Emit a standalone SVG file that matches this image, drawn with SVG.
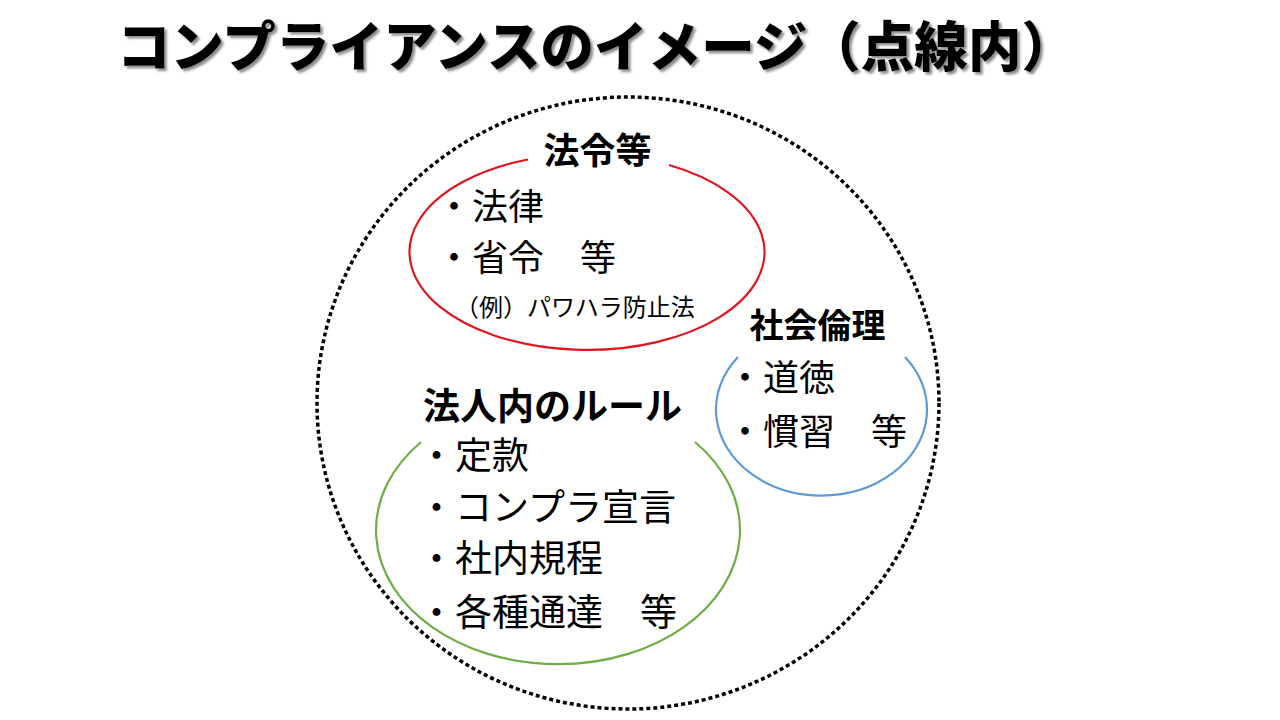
<svg xmlns="http://www.w3.org/2000/svg" width="1280" height="720" viewBox="0 0 1280 720">
  <defs>
    <filter id="shadow" x="-5%" y="-20%" width="110%" height="150%">
      <feDropShadow dx="2.5" dy="2.5" stdDeviation="1" flood-color="#7f7f7f" flood-opacity="0.9"/>
    </filter>
  </defs>
  <style>
    text { font-family: "Noto Sans CJK JP", "Noto Sans", sans-serif; fill: #000; }
    .title { font-size: 54px; font-weight: 900; }
    .label { font-weight: 700; }
    .item { font-size: 36px; font-weight: 400; }
    .item-l { font-size: 37px; font-weight: 400; }
    .small { font-size: 24px; font-weight: 400; }
    .ring { fill: none; stroke-width: 2.2; }
  </style>
  <rect width="1280" height="720" fill="#fff"/>

  <g id="title">
    <text class="title" x="117" y="67" textLength="958" lengthAdjust="spacingAndGlyphs" filter="url(#shadow)">コンプライアンスのイメージ（点線内）</text>
  </g>

  <g id="compliance-scope">
    <ellipse cx="628" cy="403" rx="311" ry="306" fill="none" stroke="#000" stroke-width="3.5" stroke-dasharray="4 3"/>
  </g>

  <g id="laws">
    <path class="ring" stroke="#E0161E" d="M 669 165 A 177.5 98 0 1 1 528 159.5"/>
    <text class="label" x="597.5" y="163.5" font-size="36" text-anchor="middle">法令等</text>
    <text class="item" x="436" y="219.5">・法律</text>
    <text class="item" x="436" y="270.5">・省令　等</text>
    <text class="small" x="455" y="316">（例）パワハラ防止法</text>
  </g>

  <g id="social-ethics">
    <path class="ring" stroke="#5B9BD5" d="M 905 357 A 105.5 86 0 1 1 738 357"/>
    <text class="label" x="817.5" y="338" font-size="34" text-anchor="middle">社会倫理</text>
    <text class="item" x="727" y="390.5">・道徳</text>
    <text class="item" x="727" y="444.5">・慣習　等</text>
  </g>

  <g id="internal-rules">
    <path class="ring" stroke="#70AD47" d="M 695 442 A 182 134 0 1 1 421 442"/>
    <text class="label" x="552.5" y="419.5" font-size="37" text-anchor="middle">法人内のルール</text>
    <text class="item-l" x="418" y="469">・定款</text>
    <text class="item-l" x="418" y="521">・コンプラ宣言</text>
    <text class="item-l" x="418" y="571.5">・社内規程</text>
    <text class="item-l" x="418" y="626">・各種通達　等</text>
  </g>

  <g id="connectors"/>
</svg>
